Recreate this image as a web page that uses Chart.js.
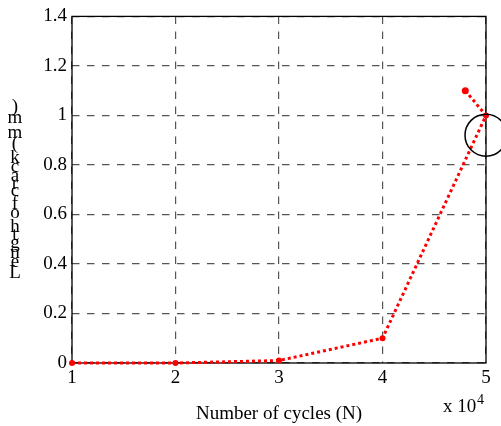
<!DOCTYPE html>
<html>
<head>
<meta charset="utf-8">
<script src="https://cdn.jsdelivr.net/npm/chart.js@4"></script>
<style>
  body { margin: 0; background: #fff; }
  canvas { display: block; }
</style>
</head>
<body>
<canvas id="crackChart" width="501" height="426"></canvas>
<script>
// cycles are in units of 10^4
const cycles = [1, 2, 3, 4, 5, 4.8];
const crackLength = [0, 0, 0.01, 0.1, 1.0, 1.1];
const xTicks = [1, 2, 3, 4, 5];
const yTicks = [0, 0.2, 0.4, 0.6, 0.8, 1, 1.2, 1.4];
const markCircle = { x: 5, y: 0.92 };

const xLabel = 'Number of cycles (N)';
const yLabel = 'Length of crack (mm)';
const serif = '"Liberation Serif", "Times New Roman", serif';

const points = cycles.map((c, i) => ({ x: c, y: crackLength[i] }));

// solid axes box, drawn under the data
const box = {
    id: 'box',
    beforeDatasetsDraw(chart) {
        const ctx = chart.ctx;
        const a = chart.chartArea;
        ctx.save();
        ctx.strokeStyle = '#000';
        ctx.lineWidth = 1.3;
        ctx.strokeRect(a.left, a.top, a.right - a.left, a.bottom - a.top);
        ctx.restore();
    }
};

// circled region, axis titles and the x10^4 multiplier
const extras = {
    id: 'extras',
    afterDatasetsDraw(chart) {
        const ctx = chart.ctx;
        const a = chart.chartArea;
        const xs = chart.scales.x, ys = chart.scales.y;
        ctx.save();
        ctx.strokeStyle = '#000';
        ctx.beginPath();
        ctx.lineWidth = 1.5;
        ctx.arc(xs.getPixelForValue(markCircle.x), ys.getPixelForValue(markCircle.y), 21, 0, Math.PI * 2);
        ctx.stroke();

        ctx.fillStyle = '#000';
        ctx.font = '19px ' + serif;
        ctx.textAlign = 'center';
        ctx.textBaseline = 'alphabetic';
        ctx.fillText(xLabel, (a.left + a.right) / 2, 419);

        ctx.textAlign = 'left';
        ctx.fillText('x 10', 443, 412);
        ctx.font = '14px ' + serif;
        ctx.fillText('4', 477, 404);

        // y title: upright characters stacked bottom to top
        ctx.font = '19px ' + serif;
        ctx.textAlign = 'center';
        ctx.textBaseline = 'middle';
        let y = 279;
        for (const ch of yLabel) {
            const w = ctx.measureText(ch).width * 1.05;
            ctx.fillText(ch, 15, y - w / 2);
            y -= w;
        }
        ctx.restore();
    }
};

const gridStyle = { color: '#555', lineWidth: 1.2, drawTicks: false };
const tickFont = { family: serif, size: 19 };

new Chart(document.getElementById('crackChart'), {
    type: 'line',
    data: {
        datasets: [{
            data: points,
            borderColor: '#ff0000',
            borderWidth: 3,
            borderDash: [3, 3],
            backgroundColor: '#ff0000',
            pointRadius: [3, 3, 3, 3, 3, 3.5],
            pointBorderWidth: 0,
            tension: 0,
            fill: false,
            clip: false
        }]
    },
    options: {
        responsive: false,
        animation: false,
        layout: { padding: { top: 16, right: 15, left: 0, bottom: 0 } },
        plugins: {
            legend: { display: false },
            tooltip: { enabled: false }
        },
        scales: {
            x: {
                type: 'linear',
                min: 1,
                max: 5,
                afterFit(scale) { scale.height = 63; },
                afterBuildTicks(scale) { scale.ticks = xTicks.map(v => ({ value: v })); },
                grid: gridStyle,
                border: { display: false, dash: [7.5, 7.5] },
                ticks: { color: '#000', padding: 4, font: tickFont, callback: v => String(v) }
            },
            y: {
                min: 0,
                max: 1.4,
                afterFit(scale) { scale.width = 72; },
                afterBuildTicks(scale) { scale.ticks = yTicks.map(v => ({ value: v })); },
                grid: gridStyle,
                border: { display: false, dash: [7.5, 7.5] },
                ticks: { color: '#000', padding: 5, font: tickFont, callback: v => String(v) }
            }
        }
    },
    plugins: [box, extras]
});
</script>
</body>
</html>
